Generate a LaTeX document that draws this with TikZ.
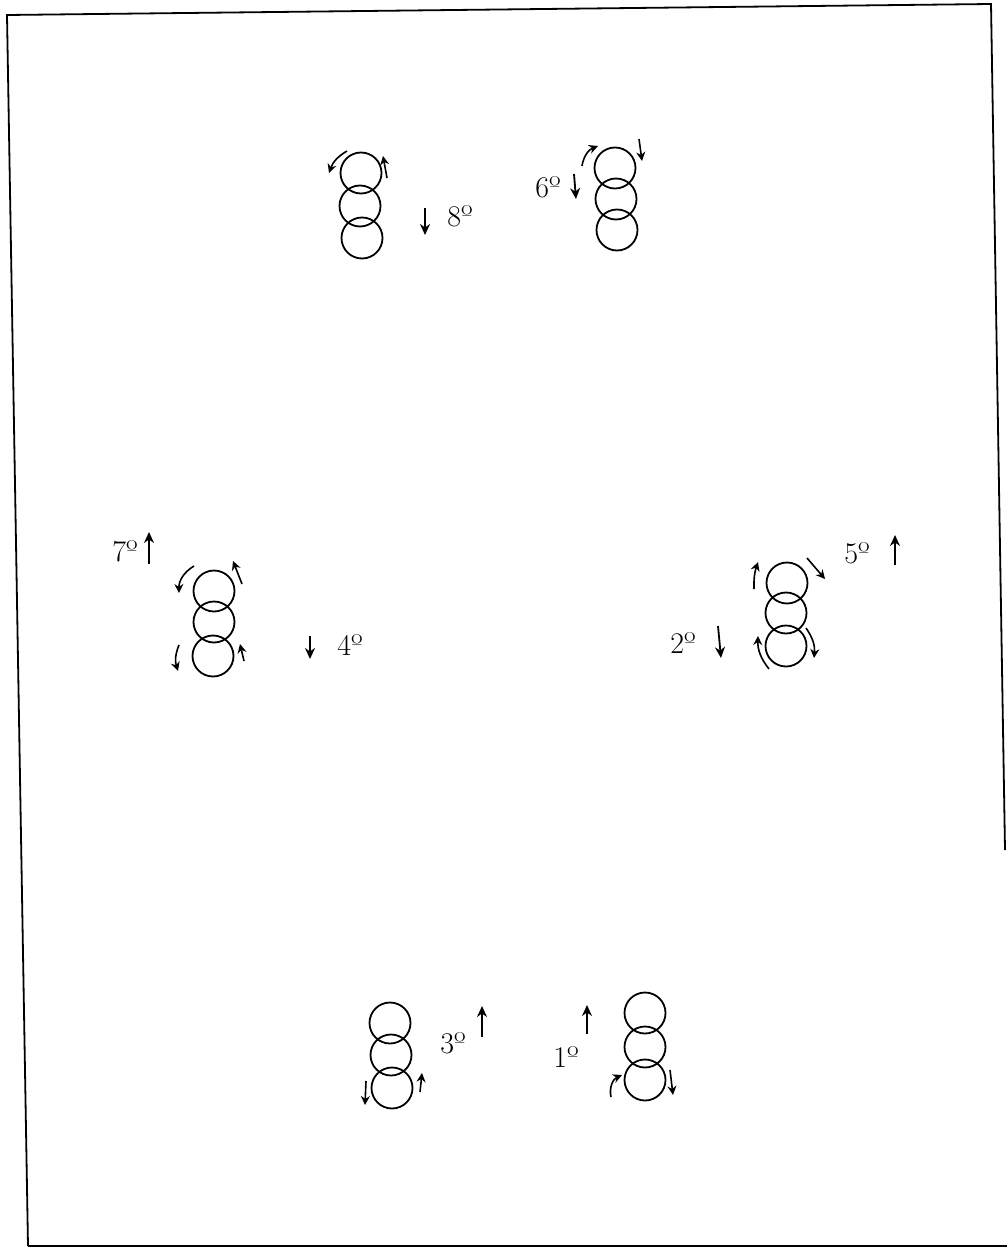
\documentclass[tikz,border=0pt]{standalone}
\usepackage{tikz}
\usetikzlibrary{arrows.meta}

\begin{document}
\begin{tikzpicture}[x=1pt, y=-1pt,
    every node/.style={font=\fontsize{30}{34}\selectfont},
    ring/.style={circle, draw, line width=1.8pt, minimum size=41pt, inner sep=0pt},
    turnArrow/.style={-{Stealth[length=9pt,width=9pt]}, line width=1.6pt},
    moveArrow/.style={-{Stealth[length=11pt,width=10pt]}, line width=1.8pt}]

\useasboundingbox (0,0) rectangle (1007,1252);

% Frame of the sheet
\draw[line width=1.8pt] (28,1246) -- (7,15) -- (991,4) -- (1005,850);
\draw[line width=1.8pt] (28,1246) -- (1007,1246);

% Stack top left (8th)
\node[ring] (a1) at (361,173) {};
\node[ring] (a2) at (360,206) {};
\node[ring] (a3) at (362,238) {};
\draw[turnArrow] (347,151) to[bend right=20] (329,173);
\draw[turnArrow] (387,178) -- (383,156);
\draw[moveArrow] (425,208) -- (425,235);
\node (n8) at (460,216) {8º};

% Stack top right (6th)
\node[ring] (b1) at (615,168) {};
\node[ring] (b2) at (616,199) {};
\node[ring] (b3) at (617,230) {};
\draw[turnArrow] (582,166) to[bend left=30] (598,146);
\draw[turnArrow] (639,139) -- (642,161);
\node (n6) at (548,187) {6º};
\draw[moveArrow] (574,174) -- (576,199);

% Stack middle left (7th, 4th)
\node[ring] (c1) at (214,591) {};
\node[ring] (c2) at (214,622) {};
\node[ring] (c3) at (213,656) {};
\node (n7) at (125,551) {7º};
\draw[moveArrow] (149,564) -- (149,532);
\draw[turnArrow] (194,566) to[bend right=30] (179,593);
\draw[turnArrow] (242,584) -- (233,561);
\draw[turnArrow] (179,645) to[bend right=20] (178,671);
\draw[turnArrow] (244,661) -- (240,644);
\draw[moveArrow] (310,636) -- (310,659);
\node (n4) at (350,645) {4º};

% Stack middle right (5th, 2nd)
\node[ring] (d1) at (787,583) {};
\node[ring] (d2) at (786,613) {};
\node[ring] (d3) at (786,646) {};
\draw[turnArrow] (754,589) to[bend left=10] (758,562);
\draw[turnArrow] (807,558) -- (825,579);
\node (n5) at (857,553) {5º};
\draw[moveArrow] (895,565) -- (895,535);
\draw[turnArrow] (769,669) to[bend left=20] (758,636);
\draw[turnArrow] (806,628) to[bend left=20] (814,658);
\node (n2) at (683,643) {2º};
\draw[moveArrow] (718,626) -- (721,658);

% Stack bottom left (3rd)
\node[ring] (e1) at (390,1023) {};
\node[ring] (e2) at (391,1055) {};
\node[ring] (e3) at (392,1088) {};
\draw[turnArrow] (366,1081) -- (365,1105);
\draw[turnArrow] (420,1092) -- (422,1073);
\node (n3) at (453,1043) {3º};
\draw[moveArrow] (482,1037) -- (482,1006);

% Stack bottom right (1st)
\node[ring] (f1) at (645,1013) {};
\node[ring] (f2) at (645,1047) {};
\node[ring] (f3) at (645,1080) {};
\draw[moveArrow] (587,1034) -- (587,1005);
\node (n1) at (566,1057) {1º};
\draw[turnArrow] (611,1097) to[bend left=40] (622,1075);
\draw[turnArrow] (670,1070) -- (673,1095);

\end{tikzpicture}
\end{document}
